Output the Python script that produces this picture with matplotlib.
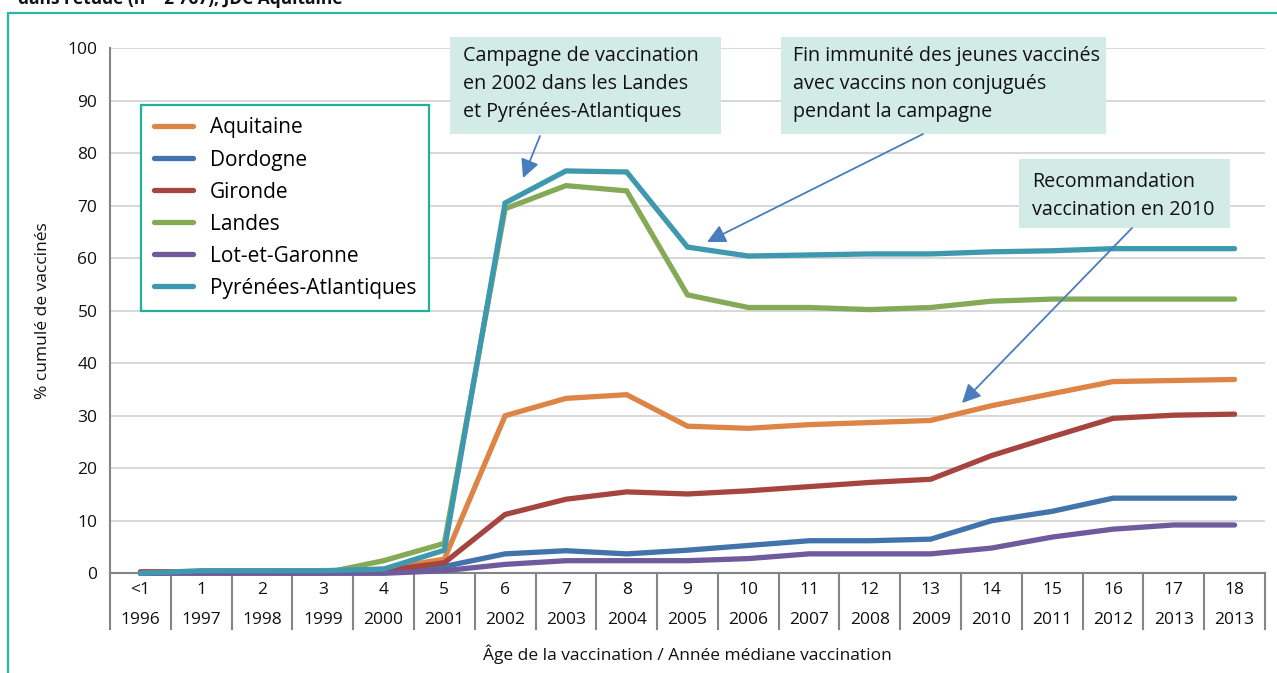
import matplotlib.pyplot as plt
from matplotlib.patches import Rectangle, FancyArrowPatch

plt.rcParams['font.family'] = ['Open Sans', 'DejaVu Sans']

ages = ["<1", "1", "2", "3", "4", "5", "6", "7", "8", "9", "10", "11", "12", "13", "14", "15", "16", "17", "18"]
years = ["1996", "1997", "1998", "1999", "2000", "2001", "2002", "2003", "2004", "2005", "2006", "2007",
         "2008", "2009", "2010", "2011", "2012", "2013", "2013"]

aquitaine = [0, 0.3, 0.3, 0.3, 0.8, 2.7, 30.0, 33.3, 34.0, 28.0, 27.6, 28.3, 28.7, 29.1, 31.9, 34.2, 36.5, 36.7, 36.9]
dordogne = [0, 0.3, 0.3, 0.3, 0.5, 1.3, 3.7, 4.3, 3.7, 4.4, 5.3, 6.2, 6.2, 6.5, 10.0, 11.8, 14.3, 14.3, 14.3]
gironde = [0.3, 0.3, 0.3, 0.3, 0.5, 2.0, 11.2, 14.1, 15.5, 15.1, 15.7, 16.5, 17.3, 17.9, 22.4, 26.0, 29.5, 30.1, 30.3]
landes = [0, 0.3, 0.2, 0, 2.4, 5.7, 69.4, 73.8, 72.8, 53.0, 50.6, 50.6, 50.2, 50.6, 51.8, 52.2, 52.2, 52.2, 52.2]
lot_et_garonne = [0, 0, 0, 0, 0, 0.5, 1.7, 2.4, 2.4, 2.4, 2.8, 3.7, 3.7, 3.7, 4.8, 6.9, 8.4, 9.2, 9.2]
pyrenees = [0, 0.5, 0.5, 0.5, 0.8, 4.4, 70.5, 76.6, 76.4, 62.1, 60.4, 60.6, 60.8, 60.8, 61.2, 61.4, 61.8, 61.8, 61.8]

series = [("Aquitaine", aquitaine, "#dd8447"),
          ("Dordogne", dordogne, "#4273ab"),
          ("Gironde", gironde, "#a6443f"),
          ("Landes", landes, "#85aa57"),
          ("Lot-et-Garonne", lot_et_garonne, "#6f5a9b"),
          ("Pyrénées-Atlantiques", pyrenees, "#3e99ae")]

W, H = 1277, 673
fig = plt.figure(figsize=(W / 100, H / 100), dpi=100)
ax = fig.add_axes([110 / W, 1 - 573.3 / H, 1155 / W, 525.3 / H])


def px(x, y):
    # pixel from top-left -> figure fraction
    return (x / W, 1 - y / H)


x = list(range(len(ages)))
for name, vals, col in series:
    ax.plot(x, vals, color=col, lw=3.8, label=name, solid_capstyle='round',
            solid_joinstyle='miter', clip_on=False, zorder=3)

ax.set_xlim(-0.5, len(ages) - 0.5)
ax.set_ylim(0, 100)
ax.set_yticks(range(0, 101, 10))
ax.yaxis.grid(True, color="#d4d4d4", lw=1.3)
ax.set_axisbelow(True)
ax.set_xticks([])
ax.tick_params(axis='y', length=0, pad=9, labelsize=12.5, labelcolor="#111111")
for s in ["top", "right"]:
    ax.spines[s].set_visible(False)
for s in ["left", "bottom"]:
    ax.spines[s].set_color("#858585")
    ax.spines[s].set_linewidth(1.5)

# category table under the axis
trans = ax.get_xaxis_transform()
for i in range(len(ages) + 1):
    ax.plot([i - 0.5, i - 0.5], [0, -0.106], transform=trans, color="#858585", lw=1.5, clip_on=False)
for i, (a, yr) in enumerate(zip(ages, years)):
    ax.text(i, -0.032, a, transform=trans, ha='center', va='center', fontsize=12.5, color="#111111")
    ax.text(i, -0.089, yr, transform=trans, ha='center', va='center', fontsize=12.5, color="#111111")
ax.text(0.5, -0.155, "Âge de la vaccination / Année médiane vaccination", transform=ax.transAxes,
        ha='center', va='center', fontsize=12.5, color="#111111")
ax.set_ylabel("% cumulé de vaccinés", fontsize=12.5, color="#111111", labelpad=12)

leg = ax.legend(loc='upper left', bbox_to_anchor=px(141, 105), bbox_transform=fig.transFigure,
                borderaxespad=0, fancybox=False, framealpha=1, edgecolor="#22b09c",
                fontsize=15, handlelength=1.9, handletextpad=0.8, labelspacing=0.53,
                borderpad=0.6)
leg.get_frame().set_linewidth(1.6)

# outer frame and cut title
fig.patches.append(Rectangle(px(8, 700), 2, (700 - 13) / H, transform=fig.transFigure,
                             fill=False, edgecolor="#2bb7a5", lw=1.6))
fig.text(18 / W, 1 - 4 / H, "dans l'étude (n = 2 767), JDC Aquitaine", fontsize=12.5,
         fontweight='bold', ha='left', va='baseline', color="#111111")

# annotation boxes
boxes = [((450, 37, 721, 134), (463, 46), "Campagne de vaccination\nen 2002 dans les Landes\net Pyrénées-Atlantiques"),
         ((781, 37, 1106, 134), (793, 46), "Fin immunité des jeunes vaccinés\navec vaccins non conjugués\npendant la campagne"),
         ((1019, 159, 1230, 228), (1032, 172), "Recommandation\nvaccination en 2010")]
for (x0, y0, x1, y1), (tx, ty), txt in boxes:
    fig.patches.append(Rectangle(px(x0, y1), (x1 - x0) / W, (y1 - y0) / H, transform=fig.transFigure,
                                 facecolor="#d3ebe6", edgecolor="none", zorder=5))
    fig.text(tx / W, 1 - ty / H, txt, fontsize=14.2, ha='left', va='top', linespacing=1.55,
             color="#111111", zorder=6)

arrows = [((540, 136), (523, 178)), ((923, 134), (707, 242)), ((1132, 228), (962, 403))]
for start, tip in arrows:
    fig.add_artist(FancyArrowPatch(
        px(*start), px(*tip), transform=fig.transFigure, arrowstyle='-|>', mutation_scale=28,
        color="#4a7dbd", lw=1.3, shrinkA=0, shrinkB=0, zorder=7))

fig.savefig("out.png", dpi=100)
